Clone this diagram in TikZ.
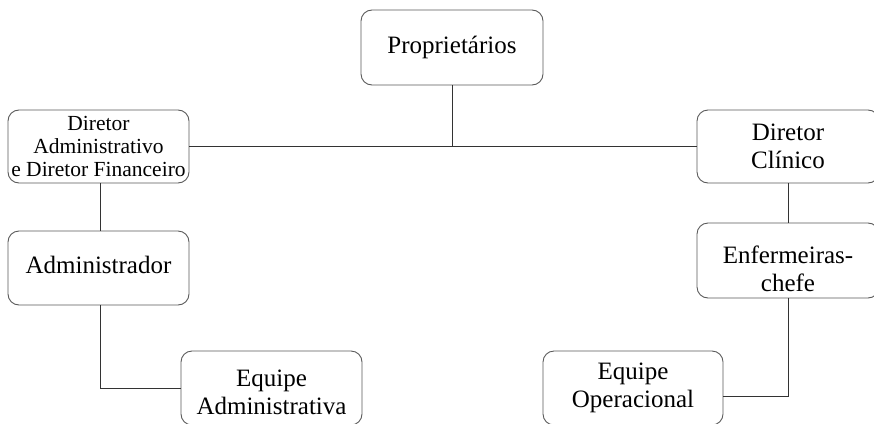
\documentclass[tikz,border=0pt]{standalone}
\usepackage{fontspec}
\setmainfont{Liberation Serif}
\begin{document}
\begin{tikzpicture}[x=1pt,y=-1pt,
  orgbox/.style={draw=black!65, line width=0.9pt, rounded corners=11pt, align=center,
    inner sep=0pt, font=\fontsize{25}{28}\selectfont, text=black},
  smallbox/.style={orgbox, font=\fontsize{21.5}{23}\selectfont},
  boxtext/.style={align=center, inner sep=0pt, font=\fontsize{25}{28}\selectfont, text=black},
  link/.style={draw=black!80, line width=0.9pt}]
\useasboundingbox (0,0) rectangle (874,423);
\clip (0,0) rectangle (874,423);
\node[orgbox, minimum width=182pt, minimum height=75pt] (prop) at (452,47.5) {Proprietários};
\node[smallbox, minimum width=181pt, minimum height=73pt] (dadm) at (98.5,146.5) {Diretor\\Administrativo\\e Diretor Financeiro};
\node[orgbox, minimum width=181pt, minimum height=74pt] (adm) at (98.5,268) {};
\node[boxtext] (admt) at ([yshift=3pt]adm.center) {Administrador};
\node[orgbox, minimum width=181pt, minimum height=74pt] (eqadm) at (271.5,388) {};
\node[boxtext] (eqadmt) at ([yshift=-4pt]eqadm.center) {Equipe\\Administrativa};
\node[orgbox, minimum width=182pt, minimum height=73pt] (dclin) at (788,146.5) {Diretor\\Clínico};
\node[orgbox, minimum width=182pt, minimum height=75pt] (enf) at (788,260.5) {};
\node[boxtext] (enft) at ([yshift=-8pt]enf.center) {Enfermeiras-\\chefe};
\node[orgbox, minimum width=180pt, minimum height=74pt] (eqop) at (633,388) {Equipe\\Operacional};
\draw[link] (dadm.east) -- (dclin.west);
\draw[link] (prop.south) -- (prop.south |- dadm.east);
\draw[link] ([xshift=1.5pt]dadm.south) -- ([xshift=1.5pt]adm.north);
\draw[link] ([xshift=1.5pt]adm.south) |- (eqadm.west);
\draw[link] (dclin.south) -- (enf.north);
\draw[link] (enf.south) |- ([yshift=-8pt]eqop.east);
\end{tikzpicture}
\end{document}
